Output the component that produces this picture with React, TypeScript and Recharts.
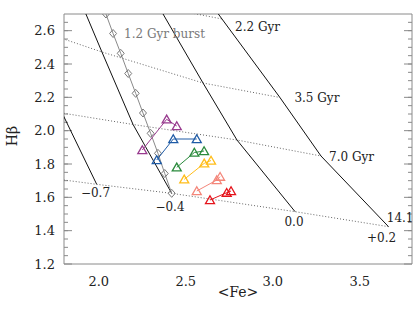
import React from "react";
import { ScatterChart, Scatter, XAxis, YAxis } from "recharts";

const FONT = "'DejaVu Serif', serif";
const FRAME = "#8a8a8a";
const INK = "#222";

const X_DOMAIN = [1.8, 3.8];
const Y_DOMAIN = [1.2, 2.7];
const X_TICKS = [2.0, 2.5, 3.0, 3.5];
const Y_TICKS = [1.2, 1.4, 1.6, 1.8, 2.0, 2.2, 2.4, 2.6];
const X_MINOR = [1.9, 2.0, 2.1, 2.2, 2.3, 2.4, 2.5, 2.6, 2.7, 2.8, 2.9, 3.0, 3.1, 3.2, 3.3, 3.4, 3.5, 3.6, 3.7];
const Y_MINOR = [
  1.25, 1.3, 1.35, 1.4, 1.45, 1.5, 1.55, 1.6, 1.65, 1.7, 1.75, 1.8, 1.85, 1.9, 1.95, 2.0, 2.05, 2.1, 2.15,
  2.2, 2.25, 2.3, 2.35, 2.4, 2.45, 2.5, 2.55, 2.6, 2.65,
];

// model grid: lines of constant [Fe/H] (solid)
const FEH_M07 = [{ x: 1.72, y: 2.232 }, { x: 1.789, y: 2.106 }, { x: 1.988, y: 1.678 }];
const FEH_M04 = [{ x: 1.892, y: 2.784 }, { x: 2.018, y: 2.472 }, { x: 2.197, y: 2.037 }, { x: 2.419, y: 1.624 }];
const FEH_00 = [{ x: 2.256, y: 2.904 }, { x: 2.599, y: 2.286 }, { x: 2.794, y: 1.944 }, { x: 3.128, y: 1.514 }];
const FEH_P02 = [
  { x: 2.628, y: 2.784 }, { x: 2.708, y: 2.67 }, { x: 3.041, y: 2.199 }, { x: 3.277, y: 1.848 }, { x: 3.665, y: 1.424 },
];

// model grid: lines of constant age (dotted)
const AGE_22 = [{ x: 2.294, y: 2.755 }, { x: 2.708, y: 2.67 }];
const AGE_35 = [{ x: 1.662, y: 2.598 }, { x: 2.018, y: 2.472 }, { x: 2.599, y: 2.286 }, { x: 3.041, y: 2.199 }];
const AGE_70 = [
  { x: 1.662, y: 2.127 }, { x: 1.789, y: 2.106 }, { x: 2.197, y: 2.037 }, { x: 2.794, y: 1.944 }, { x: 3.277, y: 1.848 },
];
const AGE_141 = [
  { x: 1.662, y: 1.723 }, { x: 1.988, y: 1.678 }, { x: 2.419, y: 1.624 }, { x: 3.128, y: 1.514 }, { x: 3.665, y: 1.424 },
];

// 1.2 Gyr burst track
const BURST_FE = [2.041, 2.082, 2.126, 2.169, 2.212, 2.254, 2.298, 2.34, 2.379, 2.419];
const BURST_HB = [2.7, 2.583, 2.464, 2.343, 2.224, 2.106, 1.984, 1.864, 1.743, 1.624];
const BURST = BURST_FE.map((x, i) => ({ x, y: BURST_HB[i] }));

// observed sequences
const PURPLE = [{ x: 2.25, y: 1.884 }, { x: 2.39, y: 2.068 }, { x: 2.448, y: 2.028 }];
const BLUE = [{ x: 2.333, y: 1.824 }, { x: 2.428, y: 1.95 }, { x: 2.563, y: 1.95 }];
const GREEN = [{ x: 2.448, y: 1.78 }, { x: 2.549, y: 1.869 }, { x: 2.605, y: 1.878 }];
const YELLOW = [{ x: 2.491, y: 1.708 }, { x: 2.606, y: 1.804 }, { x: 2.645, y: 1.821 }];
const SALMON = [{ x: 2.563, y: 1.638 }, { x: 2.678, y: 1.704 }, { x: 2.697, y: 1.724 }];
const RED = [{ x: 2.639, y: 1.584 }, { x: 2.735, y: 1.628 }, { x: 2.76, y: 1.638 }];

const SEQUENCES = [
  { data: PURPLE, color: "#983a8e" },
  { data: BLUE, color: "#1f5ba6" },
  { data: GREEN, color: "#2a8a3c" },
  { data: YELLOW, color: "#ffbd1a" },
  { data: SALMON, color: "#f4867a" },
  { data: RED, color: "#e5141c" },
];

const AGE_LABELS = [
  { x: 2.783, y: 2.624, text: "2.2 Gyr" },
  { x: 3.124, y: 2.194, text: "3.5 Gyr" },
  { x: 3.323, y: 1.842, text: "7.0 Gyr" },
  { x: 3.655, y: 1.476, text: "14.1" },
];
const FEH_LABELS = [
  { x: 1.981, y: 1.624, text: "\u22120.7" },
  { x: 2.409, y: 1.54, text: "\u22120.4" },
  { x: 3.122, y: 1.454, text: "0.0" },
  { x: 3.625, y: 1.354, text: "+0.2" },
];
const BURST_LABEL = [{ x: 2.145, y: 2.58, text: "1.2 Gyr burst" }];

const none = () => <g />;
const blank = () => "";

const triangle = (color: string) => (p: any) => (
  <path
    d={`M${p.cx},${p.cy - 4.2}L${p.cx + 4.5},${p.cy + 3.6}L${p.cx - 4.5},${p.cy + 3.6}Z`}
    fill="none"
    stroke={color}
    strokeWidth={1.3}
  />
);

const diamond = (p: any) => (
  <path
    d={`M${p.cx},${p.cy - 4}L${p.cx + 3.5},${p.cy}L${p.cx},${p.cy + 4}L${p.cx - 3.5},${p.cy}Z`}
    fill="none"
    stroke="#7a7a7a"
    strokeWidth={1}
  />
);

const textShape = (anchor: string, color: string) => (p: any) => (
  <text
    x={p.cx}
    y={p.cy}
    textAnchor={anchor}
    dominantBaseline="central"
    fontFamily={FONT}
    fontSize={12}
    fill={color}
  >
    {p.payload.text}
  </text>
);

const xLabel = ({ viewBox }: any) => (
  <text x={viewBox.x + viewBox.width / 2} y={viewBox.y + 33} textAnchor="middle" fontFamily={FONT} fontSize={14} fill={INK}>
    {"<Fe>"}
  </text>
);

const yLabel = ({ viewBox }: any) => {
  const cx = viewBox.x + 12;
  const cy = viewBox.y + viewBox.height / 2 - 3;
  return (
    <text
      x={cx}
      y={cy}
      transform={`rotate(-90, ${cx}, ${cy})`}
      textAnchor="middle"
      dominantBaseline="central"
      fontFamily={FONT}
      fontSize={14}
      fill={INK}
    >
      Hβ
    </text>
  );
};

const axisCommon = { type: "number" as const, allowDataOverflow: true, interval: 0 as const };
// tick-mark-only axes (mirrored so they sit on the frame and point inward)
const markAxis = {
  ...axisCommon,
  mirror: true,
  tick: { fontSize: 1 },
  tickFormatter: blank,
  axisLine: false,
  tickLine: { stroke: FRAME },
};

export default function App() {
  return (
    <div style={{ position: "absolute", left: 0, top: 0, background: "#fff" }}>
      <ScatterChart width={415} height={314} margin={{ top: 14, right: 3, bottom: 10, left: 0 }}>
        <XAxis
          {...axisCommon}
          xAxisId="fe"
          dataKey="x"
          domain={X_DOMAIN}
          ticks={X_TICKS}
          height={40}
          tickLine={false}
          tickSize={0}
          tickMargin={13}
          axisLine={{ stroke: FRAME }}
          tick={{ fill: INK, fontSize: 13, fontFamily: FONT }}
          tickFormatter={(v: number) => v.toFixed(1)}
          label={{ content: xLabel }}
        />
        <XAxis {...markAxis} xAxisId="bMaj" height={0.001} domain={X_DOMAIN} ticks={X_TICKS} tickSize={8} />
        <XAxis {...markAxis} xAxisId="bMin" height={0.001} domain={X_DOMAIN} ticks={X_MINOR} tickSize={4} />
        <XAxis {...markAxis} xAxisId="tMaj" height={0.001} orientation="top" domain={X_DOMAIN} ticks={X_TICKS} tickSize={8} axisLine={{ stroke: FRAME }} />
        <XAxis {...markAxis} xAxisId="tMin" height={0.001} orientation="top" domain={X_DOMAIN} ticks={X_MINOR} tickSize={4} />

        <YAxis
          {...axisCommon}
          yAxisId="hb"
          dataKey="y"
          domain={Y_DOMAIN}
          ticks={Y_TICKS}
          width={64}
          tickLine={false}
          tickSize={0}
          tickMargin={9}
          axisLine={{ stroke: FRAME }}
          tick={{ fill: INK, fontSize: 13, fontFamily: FONT }}
          tickFormatter={(v: number) => v.toFixed(1)}
          label={{ content: yLabel }}
        />
        <YAxis {...markAxis} yAxisId="lMaj" width={0.001} domain={Y_DOMAIN} ticks={Y_TICKS} tickSize={8} />
        <YAxis {...markAxis} yAxisId="lMin" width={0.001} domain={Y_DOMAIN} ticks={Y_MINOR} tickSize={4} />
        <YAxis {...markAxis} yAxisId="rMaj" width={0.001} orientation="right" domain={Y_DOMAIN} ticks={Y_TICKS} tickSize={8} axisLine={{ stroke: FRAME }} />
        <YAxis {...markAxis} yAxisId="rMin" width={0.001} orientation="right" domain={Y_DOMAIN} ticks={Y_MINOR} tickSize={4} />

        {[AGE_22, AGE_35, AGE_70, AGE_141].map((d, i) => (
          <Scatter
            key={`age${i}`}
            xAxisId="fe"
            yAxisId="hb"
            data={d}
            fill="none"
            line={{ stroke: "#666", strokeWidth: 1, strokeDasharray: "1 2" }}
            shape={none}
            isAnimationActive={false}
          />
        ))}
        {[FEH_M07, FEH_M04, FEH_00, FEH_P02].map((d, i) => (
          <Scatter
            key={`feh${i}`}
            xAxisId="fe"
            yAxisId="hb"
            data={d}
            fill="none"
            line={{ stroke: "#111", strokeWidth: 1 }}
            shape={none}
            isAnimationActive={false}
          />
        ))}
        <Scatter
          xAxisId="fe"
          yAxisId="hb"
          data={BURST}
          fill="none"
          line={{ stroke: "#8a8a8a", strokeWidth: 1 }}
          shape={diamond}
          isAnimationActive={false}
        />
        {SEQUENCES.map((s, i) => (
          <Scatter
            key={`seq${i}`}
            xAxisId="fe"
            yAxisId="hb"
            data={s.data}
            fill="none"
            line={{ stroke: s.color, strokeWidth: 1 }}
            shape={triangle(s.color)}
            isAnimationActive={false}
          />
        ))}
        <Scatter xAxisId="fe" yAxisId="hb" data={BURST_LABEL} shape={textShape("start", "#7a7a7a")} isAnimationActive={false} />
        <Scatter xAxisId="fe" yAxisId="hb" data={AGE_LABELS} shape={textShape("start", INK)} isAnimationActive={false} />
        <Scatter xAxisId="fe" yAxisId="hb" data={FEH_LABELS} shape={textShape("middle", INK)} isAnimationActive={false} />
      </ScatterChart>
    </div>
  );
}
